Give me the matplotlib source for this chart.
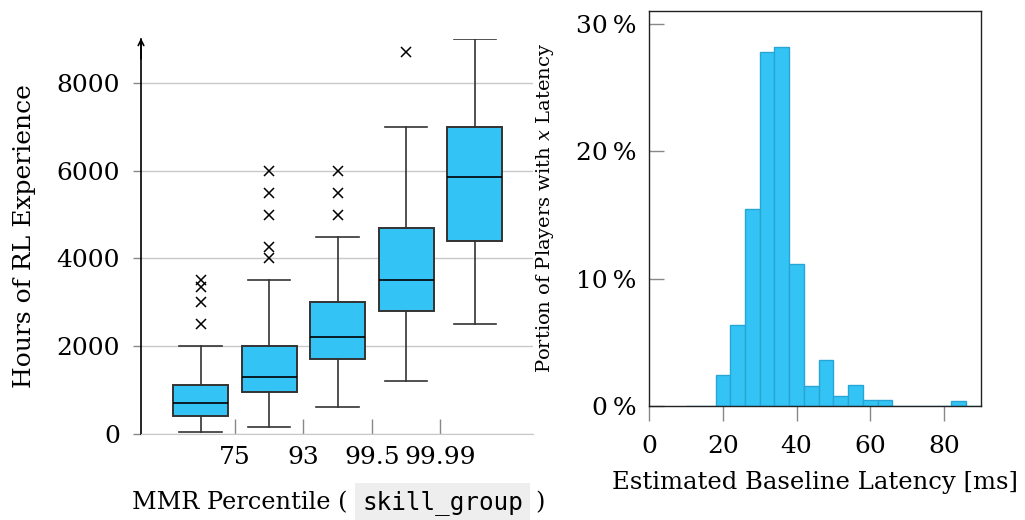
import matplotlib
matplotlib.use("Agg")
import matplotlib.pyplot as plt
import numpy as np

plt.rcParams['font.family'] = ['DejaVu Serif']
plt.rcParams['mathtext.fontset'] = 'dejavuserif'

# ---- left: box plot data (hours of RL experience per MMR percentile group) ----
group_pos = [1, 2, 3, 4, 5]
whisker_low = [50, 150, 600, 1200, 2500]
q1 = [400, 950, 1700, 2800, 4400]
medians = [700, 1300, 2200, 3500, 5850]
q3 = [1100, 2000, 3000, 4700, 7000]
whisker_high = [2000, 3500, 4500, 7000, 9000]
outliers = [
    [2500, 3000, 3350, 3500],
    [4000, 4250, 5000, 5500, 6000],
    [5000, 5500, 6000],
    [8700],
    [],
]
boundary_ticks = [1.5, 2.5, 3.5, 4.5]
boundary_labels = ["75", "93", "99.5", "99.99"]
y_ticks_left = [0, 2000, 4000, 6000, 8000]

# ---- right: histogram of estimated baseline latency ----
bin_edges = [10, 14, 18, 22, 26, 30, 34, 38, 42, 46, 50, 54, 58, 62, 66, 70, 74, 78, 82, 86, 90]
bin_pct = [0, 0, 2.41, 6.38, 15.48, 27.76, 28.16, 11.11, 1.6, 3.58, 0.81, 1.62,
           0.44, 0.44, 0, 0, 0, 0, 0.42, 0]
x_ticks_right = [0, 20, 40, 60, 80]
y_ticks_right = [0, 10, 20, 30]

BLUE = '#33c4f5'
EDGE = '#333333'
GRID = '#c8c8c8'
TICKC = '#888888'

fig = plt.figure(figsize=(10.25, 5.2), dpi=100)
W, H = 1025, 520

def ax_px(l, r, t, b):
    return fig.add_axes([l / W, (H - b) / H, (r - l) / W, (b - t) / H])

# ---------------- left axes ----------------
ax1 = ax_px(141, 533, 39.3, 433.7)
stats = []
for i in range(len(group_pos)):
    stats.append(dict(whislo=whisker_low[i], q1=q1[i], med=medians[i], q3=q3[i],
                      whishi=whisker_high[i], fliers=outliers[i]))
ax1.bxp(stats, positions=group_pos, widths=0.8, capwidths=0.62, patch_artist=True,
        boxprops=dict(facecolor=BLUE, edgecolor=EDGE, linewidth=1.4),
        medianprops=dict(color='black', linewidth=1.2),
        whiskerprops=dict(color=EDGE, linewidth=1.2),
        capprops=dict(color=EDGE, linewidth=1.2),
        flierprops=dict(marker='x', markeredgecolor='black', markersize=7, markeredgewidth=1.1))
ax1.set_xlim(0.13, 5.85)
ax1.set_ylim(0, 9000)
ax1.set_yticks(y_ticks_left)
ax1.set_yticklabels([str(v) for v in y_ticks_left])
ax1.yaxis.grid(True, color=GRID, linewidth=1.0)
ax1.set_axisbelow(True)
ax1.set_xticks(boundary_ticks)
ax1.set_xticklabels(boundary_labels)
ax1.tick_params(axis='x', direction='in', length=11, color=TICKC, width=1, pad=9, labelsize=18)
ax1.tick_params(axis='y', direction='out', length=6, color=TICKC, width=1, pad=9, labelsize=18)
for s in ['top', 'right']:
    ax1.spines[s].set_visible(False)
ax1.spines['bottom'].set_color(GRID)
ax1.spines['left'].set_color('black')
ax1.spines['left'].set_linewidth(1.2)
ax1.annotate('', xy=(0, 1.003), xytext=(0, 0.95), xycoords='axes fraction',
             arrowprops=dict(arrowstyle='->', lw=1.2, color='black', shrinkA=0, shrinkB=0))

fig.text(25 / W, 1 - 236.5 / H, 'Hours of RL Experience', rotation=90, ha='center', va='center', fontsize=18)
fig.text(348 / W, 1 - 509 / H, 'MMR Percentile (', ha='right', va='baseline', fontsize=17.3)
fig.text(362 / W, 1 - 509 / H, 'skill_group', ha='left', va='baseline', fontsize=17.5,
         family='DejaVu Sans Mono',
         bbox=dict(boxstyle='square,pad=0.3', facecolor='#eeeeee', edgecolor='none'))
fig.text(535 / W, 1 - 509 / H, ')', ha='left', va='baseline', fontsize=17.3)

# ---------------- right axes ----------------
ax2 = ax_px(649.3, 980.7, 11, 406)
edges = np.array(bin_edges, dtype=float)
ax2.bar(edges[:-1], bin_pct, width=np.diff(edges), align='edge', color=BLUE,
        edgecolor='#27a6d6', linewidth=1.0)
ax2.set_xlim(0, 90)
ax2.set_ylim(0, 31)
ax2.set_xticks(x_ticks_right)
ax2.set_yticks(y_ticks_right)
ax2.set_yticklabels([f'{v}\u2009%' for v in y_ticks_right])
ax2.tick_params(axis='x', direction='out', length=11, color=TICKC, width=1, pad=10, labelsize=18)
ax2.tick_params(axis='y', direction='in', length=11, color=TICKC, width=1, pad=9, labelsize=18)
for s in ax2.spines.values():
    s.set_color('#222222')
    s.set_linewidth(1.0)
ax2.set_xlabel('Estimated Baseline Latency [ms]', fontsize=17.5, labelpad=9)
fig.text(545 / W, 1 - 208 / H, 'Portion of Players with $x$ Latency', rotation=90,
         ha='center', va='center', fontsize=14)

fig.savefig('out.png', dpi=100)
